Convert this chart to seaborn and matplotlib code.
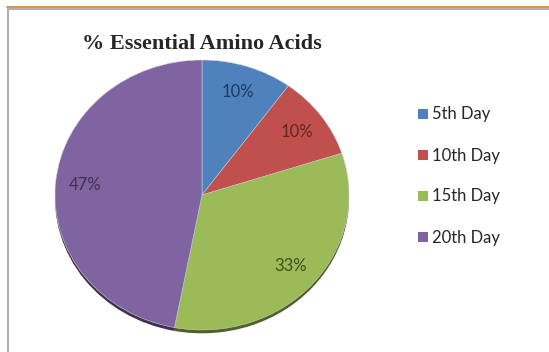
import matplotlib
matplotlib.use("Agg")
import matplotlib.pyplot as plt
import seaborn as sns
from matplotlib.patches import Patch
from matplotlib.lines import Line2D

# Data
days = ["5th Day", "10th Day", "15th Day", "20th Day"]
percent = [10, 10, 33, 47]
colors = ["#4F81BD", "#C0504D", "#9BBB59", "#8064A2"]
shadow_colors = ["#2E4C73", "#6E2C2A", "#4F6228", "#3F3151"]
label_colors = ["#1F3864", "#632523", "#3E4F1C", "#3F3151"]

sns.set_theme(style="white")
plt.rcParams['font.family'] = ['Lato', 'DejaVu Sans']

fig = plt.figure(figsize=(5.49, 3.52), dpi=100)
fig.patch.set_facecolor("white")

# pie area (slightly wider than tall, like the original)
ax = fig.add_axes([(202 - 147) / 549, (155 - 137) / 352, 294 / 549, 274 / 352])

# soft 3D edge underneath
ax.pie(percent, colors=shadow_colors, startangle=90, counterclock=False,
       center=(0, -0.025), wedgeprops=dict(linewidth=0))

wedges, texts, autotexts = ax.pie(
    percent, colors=colors, startangle=90, counterclock=False,
    autopct='%d%%', pctdistance=0.8,
    wedgeprops=dict(linewidth=0.4, edgecolor="#cfcfcf"),
    textprops=dict(fontsize=12))
for t, c in zip(autotexts, label_colors):
    t.set_color(c)

ax.set_aspect('auto')
ax.set_xlim(-1, 1)
ax.set_ylim(-1.03, 1)

# Title
fig.text(202 / 549, 1 - 44 / 352, "% Essential Amino Acids", ha='center', va='center',
         fontsize=16, fontweight='bold', family='Liberation Serif')

# Legend
handles = [Patch(facecolor=c, edgecolor='none') for c in colors]
fig.legend(handles, days, loc='center left', bbox_to_anchor=(410 / 549, 0.5),
           frameon=False, fontsize=12, handlelength=0.55, handleheight=0.55,
           handletextpad=0.3, labelspacing=1.5, borderpad=0)

# chart border
fig.add_artist(Line2D([8 / 549, 1], [1 - 9 / 352] * 2, color='#b0b0b0', lw=1.5))
fig.add_artist(Line2D([8 / 549, 8 / 549], [0, 1 - 9 / 352], color='#b0b0b0', lw=1.5))
fig.add_artist(Line2D([7 / 549, 1], [1 - 6.5 / 352] * 2, color='#E07B27', lw=1.2))

plt.savefig("out.png", dpi=100)
